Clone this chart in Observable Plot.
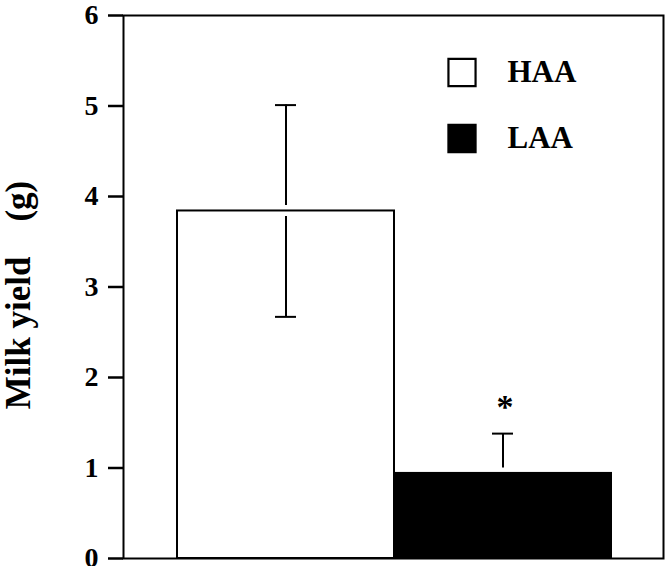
<!DOCTYPE html>
<html>
<head>
<meta charset="utf-8">
<script src="https://cdn.jsdelivr.net/npm/d3@7"></script>
<script src="https://cdn.jsdelivr.net/npm/@observablehq/plot@0.6"></script>
<style>
  html, body { margin: 0; padding: 0; background: #fff; }
  #chart svg { display: block; }
</style>
</head>
<body>
<div id="chart"></div>
<script>
// Data
const groups = ["HAA", "LAA"];
const means = [3.84, 0.94];
const sems = [1.17, 0.44];
const fills = ["white", "black"];
const yTicks = [0, 1, 2, 3, 4, 5, 6];
const yLabel = "Milk yield\u00a0\u00a0\u00a0\u00a0(g)";
const significance = ["", "*"];

const gap = 0.06;
const rows = groups.map((g, i) => ({
  group: g, mean: means[i], sem: sems[i], fill: fills[i], sig: significance[i],
  hi: means[i] + sems[i], lo: means[i] - sems[i]
}));

const font = "'Liberation Serif', 'Times New Roman', serif";

const legendMarks = rows.flatMap((r, i) => [
  Plot.dot([r], {frameAnchor: "top-left", dx: 338.5, dy: 57 + i * 66, symbol: "square",
    r: 15.3, fill: r.fill, stroke: "black", strokeWidth: 2.2}),
  Plot.text([r], {frameAnchor: "top-left", dx: 384, dy: 57 + i * 66, text: "group",
    textAnchor: "start", lineAnchor: "middle", fontSize: 31, fontWeight: "bold", fill: "black"})
]);

const chart = Plot.plot({
  width: 667,
  height: 566,
  marginLeft: 123,
  marginRight: 4,
  marginTop: 15,
  marginBottom: 8,
  style: {fontFamily: font, background: "white", color: "black"},
  x: {domain: groups, paddingInner: 0, paddingOuter: 0.2414, align: 0.51, axis: null},
  y: {domain: [0, 6], axis: null},
  marks: [
    Plot.barY(rows, {x: "group", y: "mean", fill: "fill", stroke: "black", strokeWidth: 2}),
    // upper error segment
    Plot.ruleX(rows, {x: "group", y1: d => d.mean + gap, y2: "hi", stroke: "black", strokeWidth: 2}),
    // lower error segment
    Plot.ruleX(rows, {x: "group", y1: "lo", y2: d => d.mean - gap, stroke: "black", strokeWidth: 2}),
    Plot.tickY(rows, {x: "group", y: "hi", stroke: "black", strokeWidth: 2, insetLeft: 98, insetRight: 98}),
    Plot.tickY(rows, {x: "group", y: "lo", stroke: "black", strokeWidth: 2, insetLeft: 98, insetRight: 98}),
    Plot.text(rows, {x: "group", y: "hi", text: "sig", dy: -27, dx: 2, fontSize: 34, fontWeight: "bold", lineAnchor: "middle", fill: "black"}),
    Plot.frame({stroke: "black", strokeWidth: 2}),
    Plot.axisY({ticks: yTicks, tickSize: 15, tickPadding: 10, tickFormat: d3.format("d"),
      fontSize: 28, fontWeight: "bold", strokeWidth: 2.5, label: null}),
    Plot.text([yLabel], {frameAnchor: "left", rotate: -90, dx: -105, dy: 8, fontSize: 35,
      fontWeight: "bold", lineAnchor: "middle", textAnchor: "middle", fill: "black"}),
    ...legendMarks
  ]
});

document.getElementById("chart").appendChild(chart);
</script>
</body>
</html>
